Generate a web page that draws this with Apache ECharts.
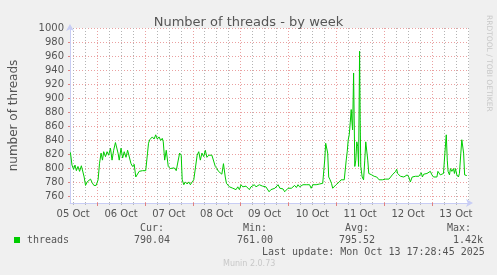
<!DOCTYPE html>
<html>
<head>
<meta charset="utf-8">
<script src="https://cdn.jsdelivr.net/npm/echarts@6/dist/echarts.min.js"></script>
<style>
html,body{margin:0;padding:0;background:#f0f0f0;}
#chart{width:497px;height:275px;}
</style>
</head>
<body>
<div id="chart"></div>
<script>
// time in hours since 05 Oct 00:00
const hours = [10.6,11.4,12.2,12.9,13.6,14.4,15.2,16.1,16.9,17.5,18.2,19.0,19.9,20.7,21.5,22.4,23.5,24.5,25.2,26.0,26.7,27.3,28.2,29.0,29.8,30.7,31.5,32.3,33.2,33.8,34.5,35.1,36.0,36.8,37.6,38.5,39.3,40.1,41.0,41.8,42.6,43.4,44.3,45.1,45.9,46.8,47.6,48.4,49.3,49.8,50.4,51.1,51.7,52.6,53.4,54.2,55.1,55.9,56.7,57.2,57.9,58.7,59.7,60.7,61.7,62.7,63.7,64.7,65.4,66.2,66.7,67.5,68.3,69.2,70.0,70.8,71.7,72.5,73.3,74.2,75.0,75.8,76.6,77.5,78.3,79.1,80.0,80.8,81.6,82.5,83.3,84.1,84.9,85.8,86.6,87.4,88.3,88.9,89.6,90.4,91.3,92.1,92.9,93.7,94.6,95.4,96.2,97.1,97.9,98.7,99.6,100.4,101.2,102.0,102.9,103.7,104.5,105.4,106.2,107.0,107.9,108.7,109.5,110.3,111.2,112.0,113.2,114.8,115.7,116.5,117.3,118.1,119.0,119.8,120.6,121.5,122.3,123.1,124.0,124.8,125.6,126.4,127.3,128.1,128.9,129.8,130.6,131.4,132.3,133.1,133.9,134.7,135.6,136.4,137.2,137.7,138.2,138.7,139.2,139.7,140.2,140.9,141.6,142.2,143.0,143.9,144.7,145.5,146.4,147.2,148.0,148.5,149.0,149.5,150.0,150.5,151.0,151.5,151.8,152.2,152.7,153.0,153.3,153.8,154.3,154.8,155.2,155.7,156.0,156.3,157.0,157.7,158.3,158.8,159.3,159.8,160.3,161.0,161.8,163.0,164.3,165.5,166.3,167.1,167.9,168.8,169.6,170.4,171.3,172.1,172.9,173.8,174.3,174.8,175.4,176.2,177.1,177.9,178.7,179.6,180.4,181.2,182.1,182.9,183.7,184.5,185.4,186.2,186.7,187.2,187.9,188.7,189.5,190.4,191.2,192.0,192.8,193.7,194.5,195.0,195.5,196.2,197.0,197.8,198.5,199.2,199.7,200.1,200.8,201.3,202.0,202.8,203.3,203.8,204.5,205.3,205.8,206.5,207.0,207.5,207.9,208.4,208.9,209.5];
const threads = [823,805,799,805,797,803,796,804,803,788,776,781,779,785,780,776,776,784,807,822,812,824,817,824,819,829,812,826,837,838,822,812,829,815,824,816,826,824,807,803,806,788,790,796,798,797,799,797,822,836,841,840,845,842,848,842,845,840,843,838,812,826,803,800,799,801,797,799,822,819,784,777,781,778,781,777,781,784,784,819,824,812,822,817,826,816,819,817,819,818,803,800,796,798,792,807,788,779,781,774,773,772,774,770,774,770,777,774,772,775,774,770,774,772,777,774,772,777,779,775,773,774,772,767,770,770,772,777,772,770,771,767,766,772,774,772,774,776,773,777,774,775,777,776,777,775,777,772,777,776,777,777,778,777,779,780,812,836,837,822,788,784,779,772,774,777,779,781,784,782,784,786,812,824,841,848,865,884,869,855,936,869,803,812,838,831,803,967,869,803,788,784,812,838,836,812,793,792,791,789,788,784,786,784,782,785,783,785,788,791,793,796,799,793,791,789,791,788,789,791,788,781,788,788,789,788,789,791,794,788,792,791,793,794,796,791,788,788,788,796,798,791,791,793,822,848,812,796,791,800,796,800,793,800,791,788,793,822,841,842,822,791,791,790];

const yTicks = [760,780,800,820,840,860,880,900,920,940,960,980,1000];
const dayNoons = [12,36,60,84,108,132,156,180,204];
const dayLabels = ['05 Oct','06 Oct','07 Oct','08 Oct','09 Oct','10 Oct','11 Oct','12 Oct','13 Oct'];
const midnights = [24,48,72,96,120,144,168,192];
const sixHours = [12,18,30,36,42,54,60,66,78,84,90,102,108,114,126,132,138,150,156,162,174,180,186,198,204,210];

const legendHeads = ['Cur:','Min:','Avg:','Max:'];
const legendValues = ['790.04','761.00','795.52','1.42k'];

const X_MIN = 10.4, X_MAX = 210.6;
const Y_MIN = 751, Y_MAX = 1000;

const chart = echarts.init(document.getElementById('chart'), null, {renderer:'canvas'});
const axisCol = '#c8cdf5';
const txt = '#555555';
const headX = [140,243,345,447];
const valX = [134,237,339,453];
const graphics = [
  {type:'rect', shape:{x:14,y:237,width:6,height:6}, style:{fill:'#00cc00'}},
  {type:'text', x:27, y:240, style:{text:'threads', font:'10px "DejaVu Sans Mono"', fill:txt, verticalAlign:'middle'}},
  {type:'text', x:262, y:252, style:{text:'Last update: Mon Oct 13 17:28:45 2025', font:'10px "DejaVu Sans Mono"', fill:txt, verticalAlign:'middle'}},
  {type:'text', x:223, y:264, style:{text:'Munin 2.0.73', font:'8px "DejaVu Sans"', fill:'#c8c8c8', verticalAlign:'middle'}},
  {type:'text', x:489, y:15, rotation:-Math.PI/2, style:{text:'RRDTOOL / TOBI OETIKER', font:'7.5px "DejaVu Sans"', fill:'#c8c8c8', verticalAlign:'middle'}}
];
legendHeads.forEach((t,i)=>graphics.push({type:'text', x:headX[i], y:228, style:{text:t, font:'10px "DejaVu Sans Mono"', fill:txt, verticalAlign:'middle'}}));
legendValues.forEach((t,i)=>graphics.push({type:'text', x:valX[i], y:240, style:{text:t, font:'10px "DejaVu Sans Mono"', fill:txt, verticalAlign:'middle'}}));

chart.setOption({
  animation:false,
  backgroundColor:'#f0f0f0',
  title:{text:'Number of threads - by week', left:'center', top:11,
    textStyle:{fontFamily:'DejaVu Sans', fontSize:13, fontWeight:'normal', color:txt}},
  grid:{left:67, right:28, top:28, bottom:72, show:true, backgroundColor:'#ffffff', borderWidth:0},
  xAxis:[
    {type:'value', min:X_MIN, max:X_MAX, gridIndex:0, position:'bottom', z:1,
      axisLine:{show:false}, axisTick:{show:true, customValues:sixHours, length:2, lineStyle:{color:'#b8b8b8'}},
      axisLabel:{show:false}, splitLine:{show:true, lineStyle:{color:'#b4b4b4', type:[1,2], width:1}}},
    {type:'value', min:X_MIN, max:X_MAX, gridIndex:0, position:'bottom', z:2,
      axisLine:{show:true, onZero:false, lineStyle:{color:axisCol, width:1}, symbol:['none','arrow'], symbolSize:[6,7], symbolOffset:[0,4]},
      axisTick:{show:true, customValues:midnights, length:3, lineStyle:{color:'#e08080'}},
      axisLabel:{customValues:dayNoons, margin:6, color:txt, fontFamily:'DejaVu Sans', fontSize:10,
        formatter:(v)=>{const i=dayNoons.indexOf(Math.round(v)); return i>=0?dayLabels[i]:'';}},
      splitLine:{show:true, lineStyle:{color:'#eaa0a0', type:[1,2], width:1}}}
  ],
  yAxis:{type:'value', min:Y_MIN, max:Y_MAX, name:'number of threads', nameLocation:'middle', nameGap:50,
    nameTextStyle:{fontFamily:'DejaVu Sans', fontSize:12, color:txt},
    axisLine:{show:true, onZero:false, lineStyle:{color:axisCol, width:1}, symbol:['none','arrow'], symbolSize:[6,7], symbolOffset:[0,4]},
    axisTick:{show:true, customValues:yTicks, length:2, lineStyle:{color:'#e08080'}},
    axisLabel:{customValues:yTicks, margin:6, color:txt, fontFamily:'DejaVu Sans', fontSize:10, formatter:(v)=>String(Math.round(v))},
    splitLine:{show:true, lineStyle:{color:'#eaa0a0', type:[1,2], width:1}}},
  series:[{type:'line', xAxisIndex:1, data:hours.map((h,i)=>[h,threads[i]]), showSymbol:false,
    lineStyle:{color:'#00cc00', width:1}, itemStyle:{color:'#00cc00'}, z:5}],
  graphic:graphics
});
</script>
</body>
</html>
